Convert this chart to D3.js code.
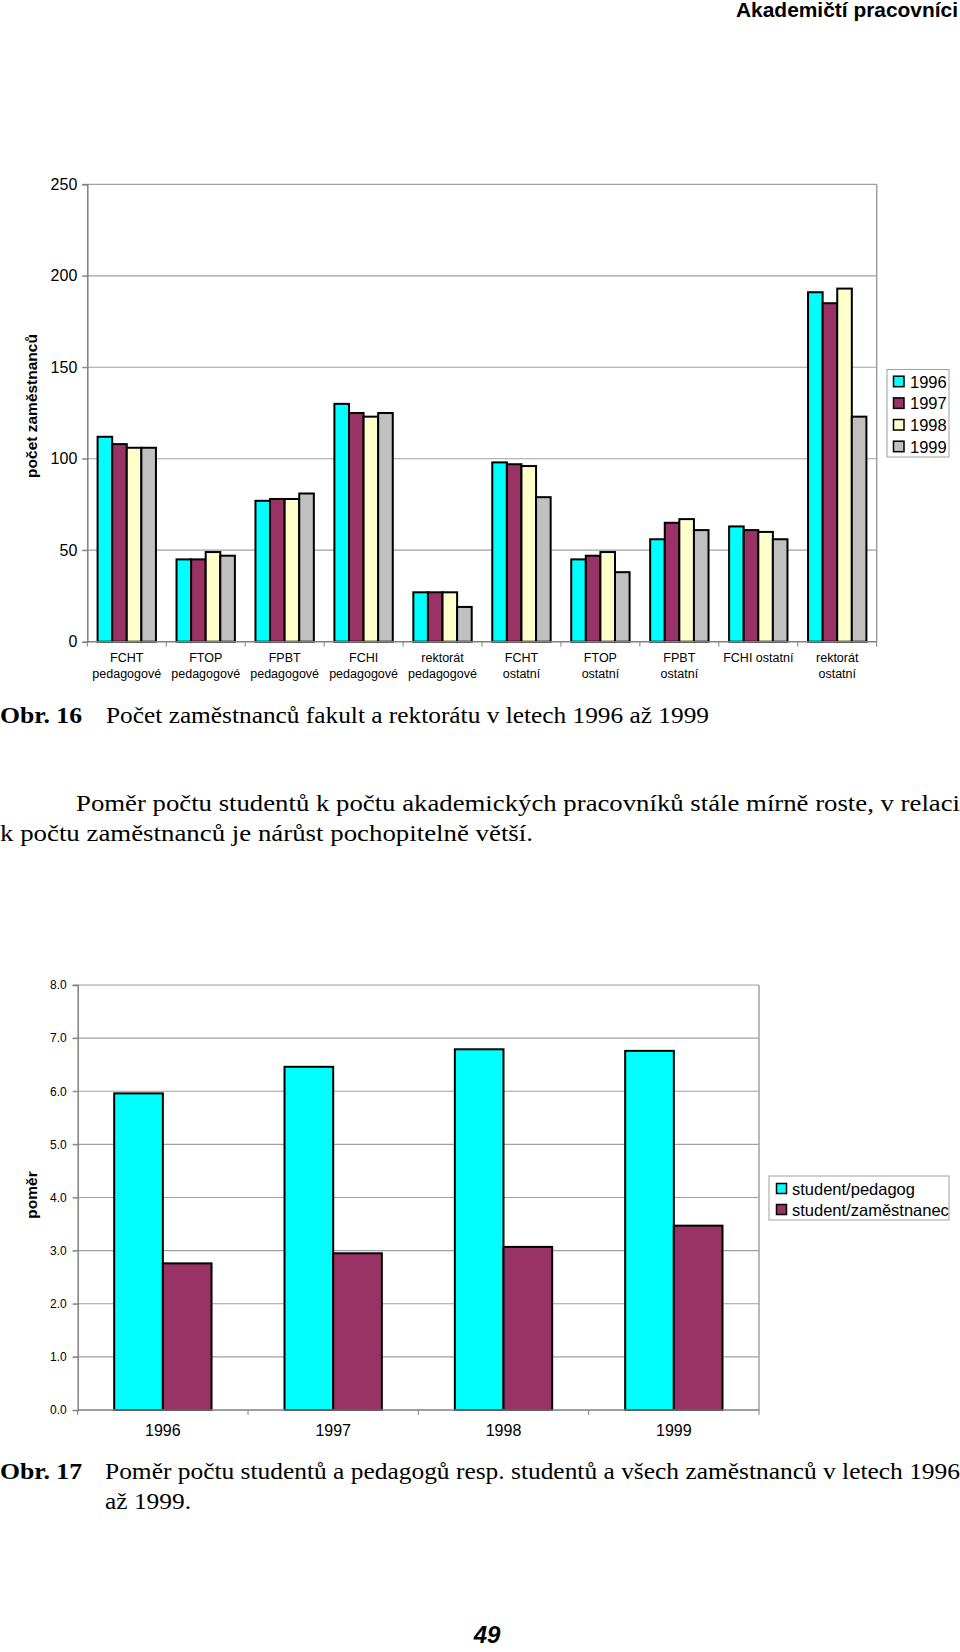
<!DOCTYPE html>
<html><head><meta charset="utf-8">
<script src="https://cdn.jsdelivr.net/npm/d3@7"></script>
<style>
html,body{margin:0;padding:0;background:#fff;}
svg{display:block;}
.sans{font-family:Arial,"Liberation Sans",Helvetica,sans-serif;}
.serif{font-family:"Times New Roman",Times,"Liberation Serif",serif;}
</style></head>
<body>
<svg id="page" width="960" height="1652"></svg>
<script>
// ---------- DATA ----------
const categories1 = [["FCHT","pedagogové"],["FTOP","pedagogové"],["FPBT","pedagogové"],["FCHI","pedagogové"],["rektorát","pedagogové"],["FCHT","ostatní"],["FTOP","ostatní"],["FPBT","ostatní"],["FCHI ostatní"],["rektorát","ostatní"]];
const years1 = ["1996","1997","1998","1999"];
const values1996 = [112,45,77,130,27,98,45,56,63,191];
const values1997 = [108,45,78,125,27,97,47,65,61,185];
const values1998 = [106,49,78,123,27,96,49,67,60,193];
const values1999 = [106,47,81,125,19,79,38,61,56,123];
const ticks1 = [0,50,100,150,200,250];
const colors1 = ["#00FFFF","#993366","#FFFFCC","#C0C0C0"];

const categories2 = ["1996","1997","1998","1999"];
const seriesNames2 = ["student/pedagog","student/zaměstnanec"];
const studentPedagog = [5.96,6.46,6.79,6.76];
const studentZamestnanec = [2.76,2.95,3.07,3.47];
const ticks2 = [0,1,2,3,4,5,6,7,8];
const colors2 = ["#00FFFF","#993366"];

const SANS = 'Arial, "Liberation Sans", Helvetica, sans-serif';
const SERIF = '"Times New Roman", Times, "Liberation Serif", serif';

const svg = d3.select("#page");

// ---------- PAGE TEXT ----------
svg.append("text").attr("font-family",SANS).attr("x",958).attr("y",17)
  .attr("text-anchor","end").attr("font-size",20).attr("font-weight","bold")
  .attr("textLength",222).attr("lengthAdjust","spacingAndGlyphs")
  .text("Akademičtí pracovníci");

function serifLine(x,y,txt,len,bold){
  const t = svg.append("text").attr("font-family",SERIF).attr("x",x).attr("y",y)
    .attr("font-size",24).text(txt);
  if(bold) t.attr("font-weight","bold");
  if(len) t.attr("textLength",len).attr("lengthAdjust","spacingAndGlyphs");
  return t;
}
serifLine(0,723,"Obr. 16",82,true);
serifLine(106,723,"Počet zaměstnanců fakult a rektorátu v letech 1996 až 1999",603);
serifLine(76,811,"Poměr počtu studentů k počtu akademických pracovníků stále mírně roste, v relaci",884);
serifLine(0,841,"k počtu zaměstnanců je nárůst pochopitelně větší.",533);
serifLine(0,1479,"Obr. 17",82,true);
serifLine(105,1479,"Poměr počtu studentů a pedagogů resp. studentů a všech zaměstnanců v letech 1996",855);
serifLine(105,1509,"až 1999.",86);

svg.append("text").attr("font-family",SANS).attr("x",487).attr("y",1643)
  .attr("text-anchor","middle").attr("font-size",24).attr("font-weight","bold")
  .attr("font-style","italic").text("49");

// ---------- CHART 1 ----------
(function(){
  const L=87.3,R=876.7,T=184.3,B=641.7;
  const g = svg.append("g").attr("font-family",SANS);
  const y = d3.scaleLinear().domain([0,250]).range([B,T]);
  const catIdx = d3.range(categories1.length);
  const x0 = d3.scaleBand().domain(catIdx).range([L,R]).padding(0);
  const x1 = d3.scaleBand().domain(years1).range([0,x0.bandwidth()]).paddingInner(0).paddingOuter(0.705);
  const series = [values1996,values1997,values1998,values1999];

  g.append("g").selectAll("line").data(ticks1.filter(d=>d>0)).join("line")
    .attr("x1",L-5).attr("x2",R).attr("y1",d=>y(d)).attr("y2",d=>y(d))
    .attr("stroke","#a0a0a0").attr("stroke-width",1.2);
  g.append("line").attr("x1",R).attr("x2",R).attr("y1",T).attr("y2",B).attr("stroke","#a0a0a0").attr("stroke-width",1.5);

  const ya = g.append("g").attr("transform",`translate(${L},0)`)
    .call(d3.axisLeft(y).tickValues(ticks1).tickSize(5).tickPadding(5).tickFormat(d3.format("d")));
  ya.select(".domain").attr("stroke","#808080").attr("stroke-width",1.5);
  ya.selectAll(".tick line").attr("stroke","#808080");
  ya.selectAll(".tick text").attr("font-size",16).attr("fill","#000").attr("font-family",SANS);

  series.forEach((vals,si)=>{
    g.append("g").selectAll("rect").data(vals).join("rect")
      .attr("x",(d,i)=>x0(i)+x1(years1[si]))
      .attr("y",d=>y(d))
      .attr("width",x1.bandwidth())
      .attr("height",d=>y(0)-y(d))
      .attr("fill",colors1[si]).attr("stroke","#000").attr("stroke-width",2);
  });

  g.append("line").attr("x1",L).attr("x2",R).attr("y1",B).attr("y2",B).attr("stroke","#808080").attr("stroke-width",1.5);
  g.append("g").selectAll("line").data(d3.range(categories1.length+1)).join("line")
    .attr("x1",i=>L+i*x0.step()).attr("x2",i=>L+i*x0.step()).attr("y1",B).attr("y2",B+5)
    .attr("stroke","#808080");
  const lab = g.append("g").selectAll("text").data(categories1).join("text")
    .attr("x",(d,i)=>x0(i)+x0.bandwidth()/2).attr("y",662)
    .attr("text-anchor","middle").attr("font-size",12.5);
  lab.selectAll("tspan").data(d=>d).join("tspan")
    .attr("x",function(){return this.parentNode.getAttribute("x");})
    .attr("dy",(d,i)=>i===0?0:16).text(d=>d);

  g.append("text").attr("transform",`translate(37,${(T+B)/2 - 7}) rotate(-90)`)
    .attr("text-anchor","middle").attr("font-size",15.5).attr("font-weight","bold")
    .text("počet zaměstnanců");

  const lg = g.append("g");
  lg.append("rect").attr("x",887).attr("y",369.5).attr("width",62).attr("height",87.5)
    .attr("fill","#fff").attr("stroke","#a0a0a0").attr("stroke-width",1);
  const ly = d3.scalePoint().domain(years1).range([381.7,446.7]);
  lg.selectAll("rect.sw").data(years1).join("rect").attr("class","sw")
    .attr("x",893.5).attr("y",d=>ly(d)-5.5).attr("width",10.5).attr("height",10.5)
    .attr("fill",(d,i)=>colors1[i]).attr("stroke","#000").attr("stroke-width",1.5);
  lg.selectAll("text").data(years1).join("text")
    .attr("x",910).attr("y",d=>ly(d)+6).attr("font-size",16.5).text(d=>d);
})();

// ---------- CHART 2 ----------
(function(){
  const L=77.7,R=759,T=985,B=1410;
  const g = svg.append("g").attr("font-family",SANS);
  const y = d3.scaleLinear().domain([0,8]).range([B,T]);
  const x0 = d3.scaleBand().domain(categories2).range([L,R]).padding(0);
  const x1 = d3.scaleBand().domain(seriesNames2).range([0,x0.bandwidth()]).paddingInner(0).paddingOuter(0.75);
  const series = [studentPedagog,studentZamestnanec];

  g.append("g").selectAll("line").data(ticks2.filter(d=>d>0)).join("line")
    .attr("x1",L-5).attr("x2",R).attr("y1",d=>y(d)).attr("y2",d=>y(d))
    .attr("stroke","#a0a0a0").attr("stroke-width",1.2);
  g.append("line").attr("x1",R).attr("x2",R).attr("y1",T).attr("y2",B).attr("stroke","#a0a0a0").attr("stroke-width",1.5);

  const ya = g.append("g").attr("transform",`translate(${L},0)`)
    .call(d3.axisLeft(y).tickValues(ticks2).tickSize(5).tickPadding(6).tickFormat(d3.format(".1f")));
  ya.select(".domain").attr("stroke","#808080").attr("stroke-width",1.5);
  ya.selectAll(".tick line").attr("stroke","#808080");
  ya.selectAll(".tick text").attr("font-size",12).attr("fill","#000").attr("font-family",SANS);

  series.forEach((vals,si)=>{
    g.append("g").selectAll("rect").data(vals).join("rect")
      .attr("x",(d,i)=>x0(categories2[i])+x1(seriesNames2[si]))
      .attr("y",d=>y(d))
      .attr("width",x1.bandwidth())
      .attr("height",d=>y(0)-y(d))
      .attr("fill",colors2[si]).attr("stroke","#000").attr("stroke-width",2);
  });

  g.append("line").attr("x1",L).attr("x2",R).attr("y1",B).attr("y2",B).attr("stroke","#808080").attr("stroke-width",1.5);
  g.append("g").selectAll("line").data(d3.range(categories2.length+1)).join("line")
    .attr("x1",i=>L+i*x0.step()).attr("x2",i=>L+i*x0.step()).attr("y1",B).attr("y2",B+5)
    .attr("stroke","#808080");
  g.append("g").selectAll("text").data(categories2).join("text")
    .attr("x",d=>x0(d)+x0.bandwidth()/2).attr("y",1436)
    .attr("text-anchor","middle").attr("font-size",16).text(d=>d);

  g.append("text").attr("transform",`translate(37,1195) rotate(-90)`)
    .attr("text-anchor","middle").attr("font-size",15.5).attr("font-weight","bold")
    .text("poměr");

  const lg = g.append("g");
  lg.append("rect").attr("x",769).attr("y",1176).attr("width",180).attr("height",44)
    .attr("fill","#fff").attr("stroke","#a0a0a0").attr("stroke-width",1);
  const ly = d3.scalePoint().domain(seriesNames2).range([1189,1210]);
  lg.selectAll("rect.sw").data(seriesNames2).join("rect").attr("class","sw")
    .attr("x",776.5).attr("y",d=>ly(d)-5.5).attr("width",10).attr("height",10)
    .attr("fill",(d,i)=>colors2[i]).attr("stroke","#000").attr("stroke-width",1.5);
  lg.selectAll("text").data(seriesNames2).join("text")
    .attr("x",792).attr("y",d=>ly(d)+6).attr("font-size",16.5).text(d=>d);
})();
</script>
</body></html>
